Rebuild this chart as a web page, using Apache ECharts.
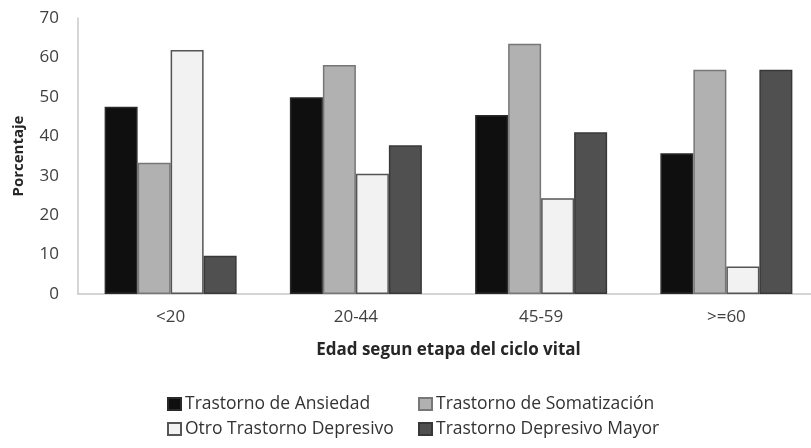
<!DOCTYPE html>
<html>
<head>
<meta charset="utf-8">
<script src="https://cdn.jsdelivr.net/npm/echarts@6/dist/echarts.min.js"></script>
<style>
  html, body { margin: 0; padding: 0; background: #ffffff; }
  #chart { width: 811px; height: 448px; }
</style>
</head>
<body>
<div id="chart"></div>
<script>
// Age groups (stages of the life cycle)
const categories = ['<20', '20-44', '45-59', '>=60'];

// Percentage of each disorder per age group
const ansiedad = [47.5, 49.9, 45.4, 35.7];
const somatizacion = [33.3, 58.1, 63.5, 56.9];
const otroDepresivo = [61.9, 30.5, 24.3, 7.0];
const depresivoMayor = [9.7, 37.7, 41.0, 56.9];

const seriesNames = [
  'Trastorno de Ansiedad',
  'Trastorno de Somatización',
  'Otro Trastorno Depresivo',
  'Trastorno Depresivo Mayor'
];

const yTicks = [0, 10, 20, 30, 40, 50, 60, 70];

const fills = ['#0f0f0f', '#b1b1b1', '#f2f2f2', '#505050'];
const borders = ['#2a2a2a', '#777777', '#555555', '#383838'];
const values = [ansiedad, somatizacion, otroDepresivo, depresivoMayor];

const FONT = '"Open Sans", "Noto Sans", sans-serif';

const chart = echarts.init(document.getElementById('chart'), null, { renderer: 'canvas' });

// two-by-two legend layout under the plot
const legendPos = [
  { left: 162, top: 390 },
  { left: 413, top: 390 },
  { left: 162, top: 415 },
  { left: 413, top: 415 }
];

chart.setOption({
  animation: false,
  backgroundColor: '#ffffff',
  textStyle: { fontFamily: FONT },
  grid: { left: 78, top: 18, width: 741, height: 276, containLabel: false, outerBoundsMode: 'none' },
  legend: seriesNames.map((n, i) => ({
    data: [n],
    left: legendPos[i].left,
    top: legendPos[i].top,
    itemWidth: 13,
    itemHeight: 12,
    itemGap: 0,
    icon: 'rect',
    selectedMode: false,
    textStyle: { fontFamily: FONT, fontSize: 17.5, color: '#333333', padding: [0, 0, 0, -1] }
  })),
  xAxis: {
    type: 'category',
    data: categories,
    name: 'Edad segun etapa del ciclo vital',
    nameLocation: 'middle',
    nameGap: 48,
    nameTextStyle: { fontFamily: FONT, fontSize: 17, fontWeight: 'bold', color: '#262626' },
    axisLine: { show: true, lineStyle: { color: '#c8c8c8', width: 1.5 } },
    axisTick: { show: false },
    axisLabel: { fontFamily: FONT, fontSize: 17, color: '#404040', margin: 15 }
  },
  yAxis: {
    type: 'value',
    min: yTicks[0],
    max: yTicks[yTicks.length - 1],
    interval: 10,
    name: 'Porcentaje',
    nameLocation: 'middle',
    nameGap: 52,
    nameRotate: 90,
    nameTextStyle: { fontFamily: FONT, fontSize: 15, fontWeight: 'bold', color: '#262626' },
    axisLine: { show: true, lineStyle: { color: '#c8c8c8', width: 1.5 } },
    axisTick: { show: false },
    splitLine: { show: false },
    axisLabel: { fontFamily: FONT, fontSize: 17, color: '#404040', margin: 19 }
  },
  series: seriesNames.map((n, i) => ({
    name: n,
    type: 'bar',
    data: values[i],
    barWidth: 33,
    barGap: '0%',
    itemStyle: { color: fills[i], borderColor: borders[i], borderWidth: 1.5 }
  }))
});
</script>
</body>
</html>
